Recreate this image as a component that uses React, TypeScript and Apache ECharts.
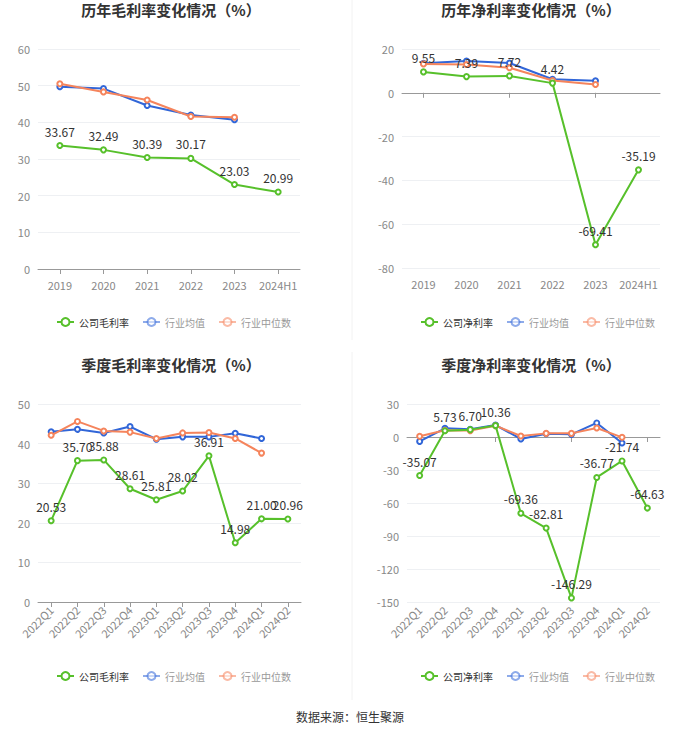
import React, { useEffect, useRef } from 'react';
import * as echarts from 'echarts';

const yearCats = ['2019', '2020', '2021', '2022', '2023', '2024H1'];
const quarterCats = ['2022Q1', '2022Q2', '2022Q3', '2022Q4', '2023Q1', '2023Q2', '2023Q3', '2023Q4', '2024Q1', '2024Q2'];

const yearGross = [33.67, 32.49, 30.39, 30.17, 23.03, 20.99];
const yearGrossMean = [49.7, 49.2, 44.6, 42.0, 40.7, null];
const yearGrossMedian = [50.5, 48.3, 46.1, 41.6, 41.4, null];

const yearNet = [9.55, 7.39, 7.72, 4.42, -69.41, -35.19];
const yearNetMean = [13.5, 14.5, 13.6, 6.2, 5.5, null];
const yearNetMedian = [13.2, 12.9, 11.4, 5.6, 3.8, null];

const qGross = [20.53, 35.7, 35.88, 28.61, 25.81, 28.02, 36.91, 14.98, 21.0, 20.96];
const qGrossMean = [43.0, 43.6, 42.7, 44.3, 41.1, 41.7, 41.7, 42.6, 41.3, null];
const qGrossMedian = [42.1, 45.6, 43.2, 42.9, 41.3, 42.7, 42.8, 41.3, 37.6, null];

const qNet = [-35.07, 5.73, 6.7, 10.36, -69.36, -82.81, -146.29, -36.77, -21.74, -64.63];
const qNetMean = [-4.0, 7.9, 7.0, 10.9, -1.8, 3.0, 2.4, 12.8, -5.5, null];
const qNetMedian = [0.6, 6.1, 5.8, 10.3, 0.9, 3.3, 3.3, 8.2, -0.3, null];

const GREEN = '#57c02b';
const BLUE = '#3166d8';
const ORANGE = '#f5845c';
const FONT = '"Noto Sans CJK SC", "Noto Sans", sans-serif';

export default function App() {
  const ref = useRef<HTMLDivElement>(null);
  useEffect(() => {
    if (!ref.current) return;
    const chart = echarts.init(ref.current, null, { renderer: 'svg' });

    const panels = [
      { title: '历年毛利率变化情况（%）', cx: 166, ty: -3, name: '公司毛利率', cats: yearCats, a: yearGross, b: yearGrossMean, c: yearGrossMedian,
        grid: { left: 38, top: 49, width: 262, height: 220 }, min: 0, max: 60, interval: 10, rotate: 0, legendX: 56, legendY: 317 },
      { title: '历年净利率变化情况（%）', cx: 526, ty: -3, name: '公司净利率', cats: yearCats, a: yearNet, b: yearNetMean, c: yearNetMedian,
        grid: { left: 402, top: 49, width: 258, height: 219 }, min: -80, max: 20, interval: 20, rotate: 0, legendX: 420, legendY: 317 },
      { title: '季度毛利率变化情况（%）', cx: 166, ty: 352, name: '公司毛利率', cats: quarterCats, a: qGross, b: qGrossMean, c: qGrossMedian,
        grid: { left: 38, top: 404, width: 263, height: 198 }, min: 0, max: 50, interval: 10, rotate: 45, legendX: 56, legendY: 671 },
      { title: '季度净利率变化情况（%）', cx: 526, ty: 352, name: '公司净利率', cats: quarterCats, a: qNet, b: qNetMean, c: qNetMedian,
        grid: { left: 407, top: 404, width: 253, height: 198 }, min: -150, max: 30, interval: 30, rotate: 45, legendX: 420, legendY: 671 },
    ];

    const title: any[] = [];
    const grid: any[] = [];
    const xAxis: any[] = [];
    const yAxis: any[] = [];
    const series: any[] = [];
    const legend: any[] = [];

    panels.forEach((p, i) => {
      title.push({
        text: p.title, left: p.cx, top: p.ty, textAlign: 'center',
        textStyle: { fontSize: 15, fontWeight: 'bold', color: '#333', fontFamily: FONT },
      });
      grid.push({ ...p.grid, containLabel: false });
      const hasNeg = p.min < 0;
      xAxis.push({
        type: 'category', gridIndex: i, data: p.cats, position: 'bottom',
        boundaryGap: true,
        axisLine: { show: !hasNeg, onZero: false, lineStyle: { color: '#999' } },
        axisTick: { show: !hasNeg, alignWithLabel: true, lineStyle: { color: '#999' } },
        axisLabel: { color: '#888', fontSize: 11, rotate: p.rotate, interval: 0, fontFamily: FONT, margin: p.rotate ? 6 : 10 },
        splitLine: { show: false },
      });
      yAxis.push({
        type: 'value', gridIndex: i, min: p.min, max: p.max, interval: p.interval,
        axisLine: { show: false }, axisTick: { show: false },
        axisLabel: { color: '#888', fontSize: 11, fontFamily: FONT },
        splitLine: { lineStyle: { color: '#eef0f3' } },
      });
      const xi = xAxis.length - 1;
      if (hasNeg) {
        xAxis.push({
          type: 'category', gridIndex: i, data: p.cats, position: 'bottom', boundaryGap: true,
          axisLine: { show: true, onZero: true, lineStyle: { color: '#999' } },
          axisTick: { show: true, alignWithLabel: true, lineStyle: { color: '#999' } },
          axisLabel: { show: false }, splitLine: { show: false },
        });
      }
      const common = {
        type: 'line', xAxisIndex: xi, yAxisIndex: i, symbol: 'emptyCircle', symbolSize: 5,
        showAllSymbol: true, lineStyle: { width: 2 }, connectNulls: false,
      };
      series.push({ ...common, name: '行业均值', data: p.b, color: BLUE, z: 2 });
      series.push({ ...common, name: '行业中位数', data: p.c, color: ORANGE, z: 3 });
      series.push({
        ...common, name: p.name, data: p.a, color: GREEN, z: 4,
        label: { show: true, position: 'top', color: '#333', fontSize: 12, fontFamily: FONT, formatter: (v: any) => Number(v.value).toFixed(2) },
      });
      legend.push({
        left: p.legendX, top: p.legendY, padding: 0,
        itemWidth: 17, itemHeight: 10, itemGap: 13, selectedMode: false,
        textStyle: { fontSize: 10, color: '#333', fontFamily: FONT },
        data: [
          { name: p.name },
          { name: '行业均值', textStyle: { color: '#999' }, itemStyle: { opacity: 0.55 }, lineStyle: { opacity: 0.55 } },
          { name: '行业中位数', textStyle: { color: '#999' }, itemStyle: { opacity: 0.55 }, lineStyle: { opacity: 0.55 } },
        ],
      });
    });

    chart.setOption({
      animation: false,
      backgroundColor: '#fff',
      title, grid, xAxis, yAxis, series, legend,
      graphic: [
        { type: 'line', shape: { x1: 352, y1: 0, x2: 352, y2: 340 }, style: { stroke: '#f2f2f2', lineWidth: 1 }, silent: true },
        { type: 'line', shape: { x1: 352, y1: 352, x2: 352, y2: 700 }, style: { stroke: '#f2f2f2', lineWidth: 1 }, silent: true },
        { type: 'text', left: 'center', top: 710, style: { text: '数据来源：恒生聚源', fill: '#333', fontSize: 12, fontFamily: FONT } },
      ],
    });
    return () => chart.dispose();
  }, []);
  return <div ref={ref} style={{ position: 'fixed', left: 0, top: 0, width: 700, height: 734 }} />;
}
